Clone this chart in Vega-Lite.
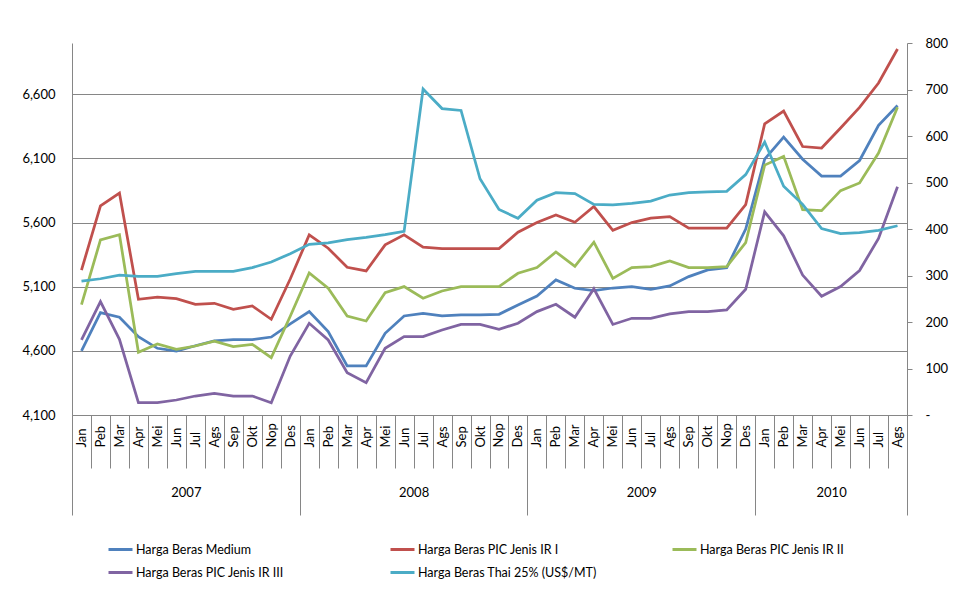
{
  "$schema": "https://vega.github.io/schema/vega-lite/v6.json",
  "width": 835,
  "height": 372,
  "autosize": {"type": "none"},
  "padding": {"left": 72, "top": 43, "right": 48, "bottom": 185},
  "background": "white",
  "config": {
    "view": {"stroke": null},
    "axis": {"labelFont": "Lato", "labelFontSize": 13, "labelColor": "#000", "domainColor": "#868686", "tickColor": "#868686", "gridColor": "#868686", "title": null},
    "legend": {"labelFont": "Lato", "labelFontSize": 12.5, "labelColor": "#000"}
  },
  "data": {"values": [
    {"m": "2007-01", "med": 4600, "ir1": 5230, "ir2": 4960, "ir3": 4685, "thai": 288},
    {"m": "2007-02", "med": 4898, "ir1": 5730, "ir2": 5465, "ir3": 4984, "thai": 293},
    {"m": "2007-03", "med": 4862, "ir1": 5830, "ir2": 5506, "ir3": 4690, "thai": 301},
    {"m": "2007-04", "med": 4711, "ir1": 5002, "ir2": 4589, "ir3": 4196, "thai": 298},
    {"m": "2007-05", "med": 4620, "ir1": 5018, "ir2": 4654, "ir3": 4196, "thai": 298},
    {"m": "2007-06", "med": 4599, "ir1": 5007, "ir2": 4612, "ir3": 4217, "thai": 304},
    {"m": "2007-07", "med": 4640, "ir1": 4963, "ir2": 4638, "ir3": 4248, "thai": 309},
    {"m": "2007-08", "med": 4677, "ir1": 4971, "ir2": 4675, "ir3": 4269, "thai": 309},
    {"m": "2007-09", "med": 4687, "ir1": 4924, "ir2": 4633, "ir3": 4248, "thai": 309},
    {"m": "2007-10", "med": 4687, "ir1": 4950, "ir2": 4651, "ir3": 4248, "thai": 317},
    {"m": "2007-11", "med": 4708, "ir1": 4846, "ir2": 4547, "ir3": 4196, "thai": 329},
    {"m": "2007-12", "med": 4810, "ir1": 5160, "ir2": 4870, "ir3": 4560, "thai": 347},
    {"m": "2008-01", "med": 4906, "ir1": 5504, "ir2": 5208, "ir3": 4815, "thai": 367},
    {"m": "2008-02", "med": 4750, "ir1": 5400, "ir2": 5088, "ir3": 4685, "thai": 370},
    {"m": "2008-03", "med": 4482, "ir1": 5252, "ir2": 4872, "ir3": 4430, "thai": 377},
    {"m": "2008-04", "med": 4482, "ir1": 5223, "ir2": 4833, "ir3": 4352, "thai": 382},
    {"m": "2008-05", "med": 4737, "ir1": 5426, "ir2": 5054, "ir3": 4620, "thai": 388},
    {"m": "2008-06", "med": 4872, "ir1": 5504, "ir2": 5101, "ir3": 4711, "thai": 395},
    {"m": "2008-07", "med": 4893, "ir1": 5408, "ir2": 5010, "ir3": 4711, "thai": 701},
    {"m": "2008-08", "med": 4872, "ir1": 5397, "ir2": 5067, "ir3": 4763, "thai": 659},
    {"m": "2008-09", "med": 4880, "ir1": 5397, "ir2": 5101, "ir3": 4807, "thai": 655},
    {"m": "2008-10", "med": 4880, "ir1": 5397, "ir2": 5101, "ir3": 4807, "thai": 508},
    {"m": "2008-11", "med": 4885, "ir1": 5397, "ir2": 5101, "ir3": 4768, "thai": 442},
    {"m": "2008-12", "med": 4958, "ir1": 5525, "ir2": 5205, "ir3": 4815, "thai": 423},
    {"m": "2009-01", "med": 5028, "ir1": 5600, "ir2": 5249, "ir3": 4906, "thai": 462},
    {"m": "2009-02", "med": 5153, "ir1": 5660, "ir2": 5371, "ir3": 4963, "thai": 478},
    {"m": "2009-03", "med": 5088, "ir1": 5603, "ir2": 5259, "ir3": 4862, "thai": 476},
    {"m": "2009-04", "med": 5070, "ir1": 5725, "ir2": 5447, "ir3": 5084, "thai": 453},
    {"m": "2009-05", "med": 5090, "ir1": 5540, "ir2": 5165, "ir3": 4806, "thai": 452},
    {"m": "2009-06", "med": 5101, "ir1": 5600, "ir2": 5249, "ir3": 4854, "thai": 455},
    {"m": "2009-07", "med": 5080, "ir1": 5634, "ir2": 5257, "ir3": 4854, "thai": 460},
    {"m": "2009-08", "med": 5106, "ir1": 5647, "ir2": 5301, "ir3": 4888, "thai": 473},
    {"m": "2009-09", "med": 5179, "ir1": 5556, "ir2": 5249, "ir3": 4906, "thai": 478},
    {"m": "2009-10", "med": 5231, "ir1": 5556, "ir2": 5249, "ir3": 4906, "thai": 480},
    {"m": "2009-11", "med": 5249, "ir1": 5556, "ir2": 5257, "ir3": 4919, "thai": 481},
    {"m": "2009-12", "med": 5549, "ir1": 5740, "ir2": 5444, "ir3": 5080, "thai": 517},
    {"m": "2010-01", "med": 6094, "ir1": 6369, "ir2": 6048, "ir3": 5684, "thai": 587},
    {"m": "2010-02", "med": 6266, "ir1": 6469, "ir2": 6116, "ir3": 5497, "thai": 492},
    {"m": "2010-03", "med": 6094, "ir1": 6193, "ir2": 5701, "ir3": 5191, "thai": 453},
    {"m": "2010-04", "med": 5963, "ir1": 6181, "ir2": 5693, "ir3": 5026, "thai": 401},
    {"m": "2010-05", "med": 5963, "ir1": 6337, "ir2": 5849, "ir3": 5101, "thai": 390},
    {"m": "2010-06", "med": 6084, "ir1": 6498, "ir2": 5909, "ir3": 5226, "thai": 392},
    {"m": "2010-07", "med": 6358, "ir1": 6688, "ir2": 6142, "ir3": 5477, "thai": 397},
    {"m": "2010-08", "med": 6513, "ir1": 6953, "ir2": 6499, "ir3": 5880, "thai": 407}
  ]},
  "layer": [
    {
      "transform": [{"fold": ["med", "ir1", "ir2", "ir3"], "as": ["s", "v"]}],
      "mark": {"type": "line", "strokeWidth": 2.75},
      "encoding": {
        "x": {
          "field": "m", "type": "ordinal",
          "scale": {"type": "band", "paddingInner": 0, "paddingOuter": 0},
          "axis": {
            "orient": "bottom", "tickBand": "extent", "tickSize": 53, "grid": false,
            "labelAngle": 270, "labelAlign": "left", "labelBaseline": "middle", "labelPadding": -21,
            "labelOverlap": false,
            "labelExpr": "['Jan','Peb','Mar','Apr','Mei','Jun','Jul','Ags','Sep','Okt','Nop','Des'][toNumber(substring(datum.value,5,7))-1]"
          }
        },
        "y": {
          "field": "v", "type": "quantitative",
          "scale": {"domain": [4100, 7000], "nice": false, "zero": false},
          "axis": {"orient": "left", "values": [4100, 4600, 5100, 5600, 6100, 6600], "format": ",.0f", "grid": true, "ticks": false, "labelPadding": 17}
        },
        "color": {
          "field": "s", "type": "nominal",
          "scale": {"domain": ["med", "ir1", "ir2", "ir3", "thai"], "range": ["#4F81BD", "#C0504D", "#9BBB59", "#8064A2", "#4BACC6"]},
          "legend": {
            "orient": "none", "direction": "horizontal", "legendX": 35, "legendY": 493, "columns": 3, "title": null,
            "symbolType": "stroke", "symbolSize": 576, "symbolStrokeWidth": 3, "labelOffset": 2,
            "gridAlign": "all", "columnPadding": 69, "rowPadding": 3, "labelLimit": 300,
            "labelExpr": "{'med':'Harga Beras Medium','ir1':'Harga Beras PIC Jenis IR I','ir2':'Harga Beras PIC Jenis IR II','ir3':'Harga Beras PIC Jenis IR III','thai':'Harga Beras Thai 25% (US$/MT)'}[datum.value]"
          }
        }
      }
    },
    {
      "transform": [{"fold": ["thai"], "as": ["s", "v"]}],
      "mark": {"type": "line", "strokeWidth": 2.75},
      "encoding": {
        "x": {
          "field": "m", "type": "ordinal",
          "scale": {"type": "band", "paddingInner": 0, "paddingOuter": 0},
          "axis": {
            "orient": "bottom", "tickBand": "extent", "tickSize": 100, "grid": false, "domain": false,
            "labelAngle": 0, "labelAlign": "center", "labelBaseline": "middle", "labelPadding": -23,
            "labelOffset": 9.49, "labelOverlap": false,
            "tickOpacity": {"condition": {"test": "!datum.value || substring(datum.value,5,7)=='12' || datum.value=='2010-08'", "value": 1}, "value": 0},
            "labelExpr": "datum.value=='2007-06'?'2007':datum.value=='2008-06'?'2008':datum.value=='2009-06'?'2009':datum.value=='2010-04'?'2010':''"
          }
        },
        "y": {
          "field": "v", "type": "quantitative",
          "scale": {"domain": [0, 800], "nice": false},
          "axis": {"orient": "right", "values": [0, 100, 200, 300, 400, 500, 600, 700, 800], "grid": false, "tickSize": 5, "labelPadding": 13, "labelExpr": "datum.value==0?'-':datum.label"}
        },
        "color": {"field": "s", "type": "nominal"}
      }
    }
  ],
  "resolve": {"scale": {"y": "independent"}, "axis": {"x": "independent", "y": "independent"}}
}
